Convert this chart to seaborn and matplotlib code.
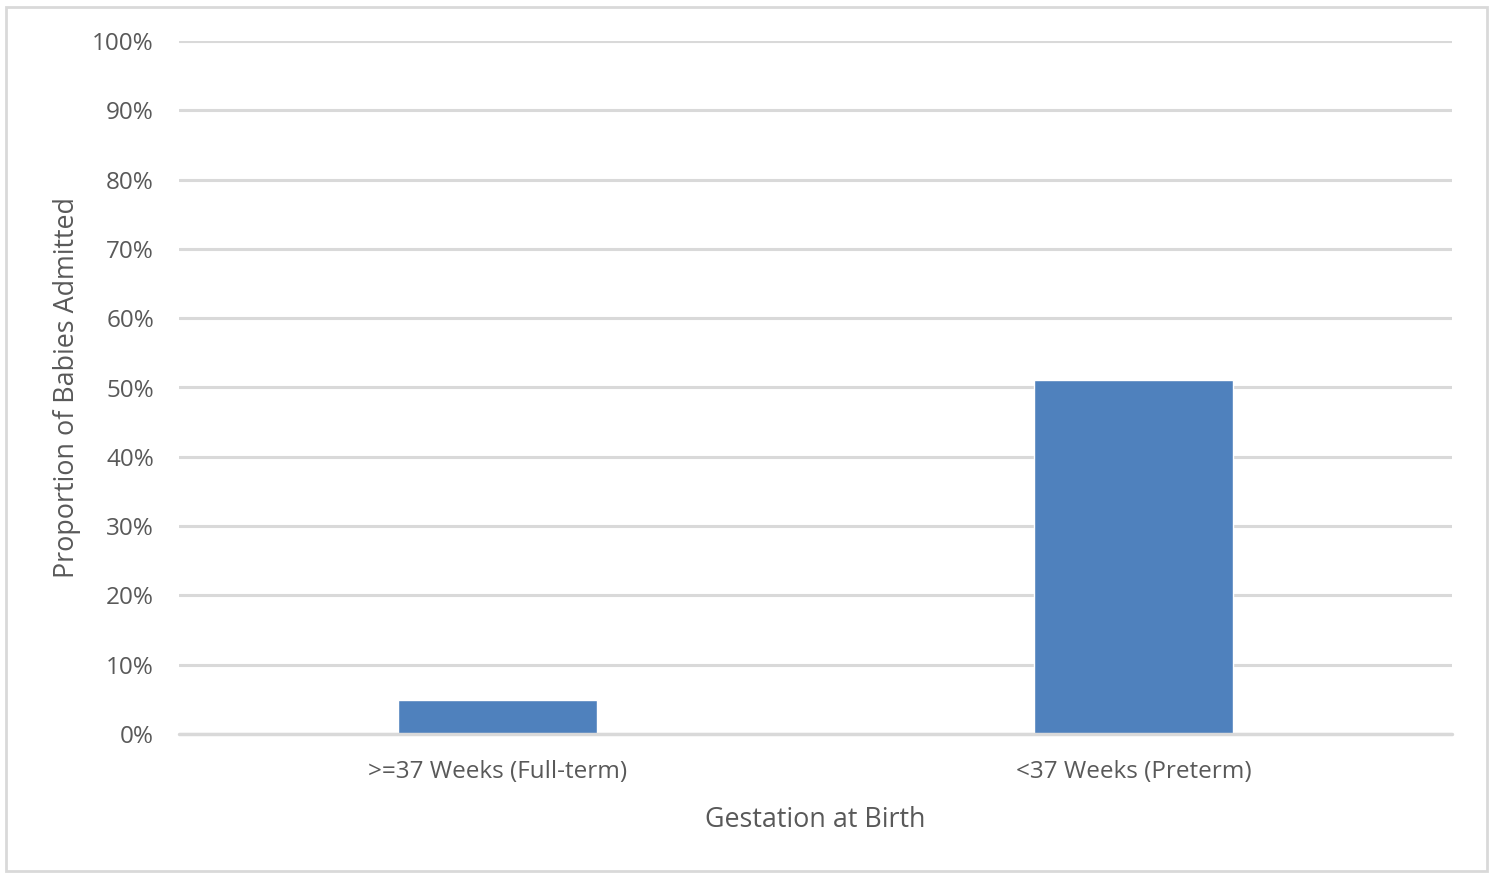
import matplotlib
matplotlib.use("Agg")
import matplotlib.pyplot as plt
import seaborn as sns
import pandas as pd
from matplotlib.patches import Rectangle

categories = [">=37 Weeks (Full-term)", "<37 Weeks (Preterm)"]
proportions = [4.9, 51.1]
y_ticks = [0, 10, 20, 30, 40, 50, 60, 70, 80, 90, 100]

df = pd.DataFrame({"Gestation": categories, "Proportion": proportions})

sns.set_style("white")
plt.rcParams['font.family'] = ['Open Sans', 'DejaVu Sans']
text_color = "#595959"
grid_color = "#d9d9d9"

fig = plt.figure(figsize=(14.96, 8.8), dpi=100)
ax = fig.add_axes([179 / 1496, 1 - 734 / 880, (1452 - 179) / 1496, (734 - 41) / 880])

sns.barplot(data=df, x="Gestation", y="Proportion", color="#4f81bd",
            width=0.313, saturation=1, ax=ax, zorder=3)

ax.set_ylim(0, 100)
ax.set_xlim(-0.5, 1.5)
ax.set_yticks(y_ticks)
ax.set_yticklabels([f"{t}%" for t in y_ticks], fontsize=17.5, color=text_color)
ax.tick_params(axis="x", labelsize=17.5, colors=text_color, length=0, pad=18.5)
ax.tick_params(axis="y", length=0, pad=18)
ax.yaxis.grid(True, color=grid_color, linewidth=2.2, zorder=0)
ax.set_axisbelow(True)
for s in ax.spines.values():
    s.set_visible(False)
ax.axhline(0, color=grid_color, linewidth=2.5, zorder=4, clip_on=False)

ax.set_xlabel("Gestation at Birth", fontsize=19.4, color=text_color, labelpad=16)
ax.set_ylabel("Proportion of Babies Admitted", fontsize=19.4, color=text_color, labelpad=8)

fig.patches.append(Rectangle((6 / 1496, 1 - 871 / 880), 1481 / 1496, 864 / 880,
                             transform=fig.transFigure, fill=False,
                             edgecolor=grid_color, linewidth=2))

fig.savefig("out.png", dpi=100, facecolor="white")
